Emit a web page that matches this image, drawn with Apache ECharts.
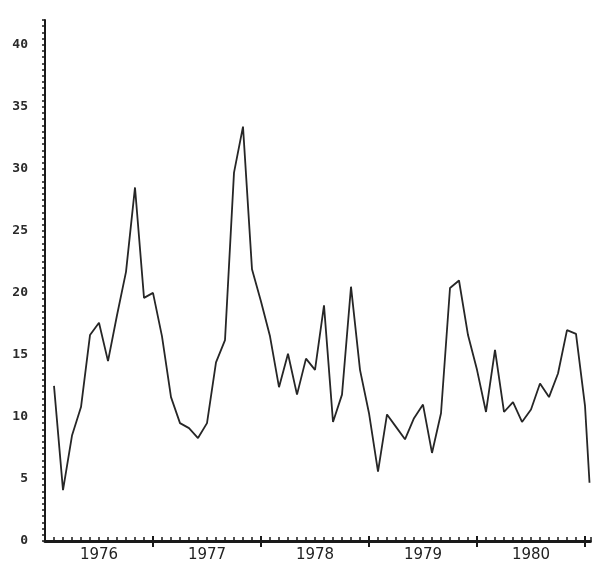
<!DOCTYPE html>
<html>
<head>
<meta charset="utf-8">
<script src="https://cdn.jsdelivr.net/npm/echarts@6/dist/echarts.min.js"></script>
<style>
html,body{margin:0;padding:0;background:#fff;}
#chart{width:600px;height:583px;}
</style>
</head>
<body>
<div id="chart"></div>
<script>
// Month index counted from January 1976 (0 = start of 1976)
const months = [1,2,3,4,5,6,7,8,9,10,11,12,13,14,15,16,17,18,19,20,
  21,22,23,24,25,26,27,28,29,30,31,32,33,34,35,36,37,38,39,40,
  41,42,43,44,45,46,47,48,49,50,51,52,53,54,55,56,57,58,59,60,60.5];
const values = [12.5,4.1,8.5,10.8,16.6,17.6,14.5,18.2,21.7,28.5,
  19.6,20.0,16.5,11.6,9.5,9.1,8.3,9.5,14.4,16.2,
  29.7,33.4,21.9,19.3,16.5,12.4,15.1,11.8,14.7,13.8,
  19.0,9.6,11.8,20.5,13.8,10.3,5.6,10.2,9.2,8.2,
  9.9,11.0,7.1,10.3,20.4,21.0,16.6,13.8,10.4,15.4,
  10.4,11.2,9.6,10.6,12.7,11.6,13.5,17.0,16.7,10.9,4.7];
const yearLabels = ['1976','1977','1978','1979','1980'];
const yearLabelPos = [6,18,30,42,54];
const yearTickPos = [12,24,36,48,60];
const yTickLabels = [0,5,10,15,20,25,30,35,40];

const X_MIN = 0, X_MAX = 60.6, Y_MIN = 0, Y_MAX = 42;
const ink = '#1a1a1a';

const chart = echarts.init(document.getElementById('chart'), null, {renderer:'canvas'});
const baseX = {
  type:'value', min:X_MIN, max:X_MAX, position:'bottom', splitLine:{show:false},
  axisLine:{show:false}, axisLabel:{show:false}, axisTick:{show:false}
};
chart.setOption({
  animation:false,
  backgroundColor:'#ffffff',
  grid:{left:45, right:9.6, top:20, bottom:42, containLabel:false},
  xAxis:[
    Object.assign({}, baseX, {
      interval:1,
      axisLine:{show:true, onZero:false, lineStyle:{color:ink, width:3}},
      axisTick:{show:true, inside:true, length:4, lineStyle:{color:ink, width:1.5}},
      axisLabel:{show:true, customValues:yearLabelPos, margin:7,
        formatter:(v)=>{const i=yearLabelPos.indexOf(v);return i>=0?yearLabels[i]:'';},
        color:'#222', fontFamily:'DejaVu Sans', fontSize:15}
    }),
    Object.assign({}, baseX, {
      axisTick:{show:true, customValues:yearTickPos, inside:true, length:5, lineStyle:{color:ink, width:2}}
    }),
    Object.assign({}, baseX, {
      axisTick:{show:true, customValues:yearTickPos, inside:false, length:6, lineStyle:{color:ink, width:2}}
    })
  ],
  yAxis:{
    type:'value', min:Y_MIN, max:Y_MAX, interval:0.5,
    splitLine:{show:false},
    axisLine:{show:true, onZero:false, lineStyle:{color:ink, width:2}},
    axisTick:{show:true, inside:false, length:3, lineStyle:{color:ink, width:1.5}},
    axisLabel:{show:true, customValues:yTickLabels, margin:17,
      color:'#2a2a2a', fontFamily:'DejaVu Sans Mono', fontWeight:'bold', fontSize:13}
  },
  series:[{
    type:'line', xAxisIndex:0, showSymbol:false, clip:true,
    lineStyle:{color:'#262626', width:1.8},
    data: months.map((m,i)=>[m, values[i]])
  }]
});
</script>
</body>
</html>
